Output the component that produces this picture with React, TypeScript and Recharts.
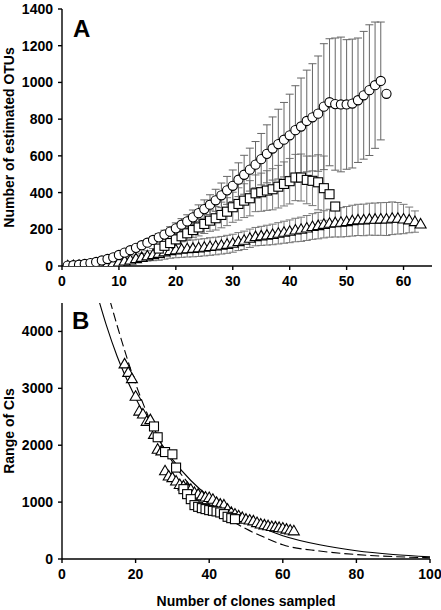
import React from "react";
import { ComposedChart, Scatter, Line, XAxis, YAxis, ErrorBar } from "recharts";

// Panel A: estimated OTUs vs clones sampled (x starts at the listed first clone)
const circleStart = 1;
const circleOTUs = [
  2, 4, 7, 11, 16, 22, 30, 38, 47, 60,
  73, 86, 99, 113, 127, 142, 156, 171, 187, 205,
  225, 243, 265, 288, 310, 334, 358, 385, 412, 437,
  470, 497, 525, 552, 582, 611, 640, 664, 688, 712,
  740, 760, 790, 810, 830, 868, 892, 882, 880, 880,
  885, 903, 930, 958, 985, 1008, 938,
];
const circleCI = [
  0, 0, 1, 1, 2, 2, 3, 4, 5, 6,
  8, 10, 12, 14, 16, 19, 21, 24, 27, 30,
  33, 36, 40, 45, 50, 54, 60, 67, 76, 86,
  92, 106, 117, 126, 140, 158, 172, 190, 203, 224,
  242, 264, 277, 292, 314, 343, 346, 360, 367, 353,
  351, 339, 348, 356, 344, 321, 0,
];

const squareStart = 17;
const squareOTUs = [
  95, 110, 125, 145, 162, 178, 196, 210, 229, 247,
  260, 278, 296, 320, 338, 356, 369, 396, 402, 411,
  418, 432, 447, 462, 482, 482, 469, 464, 456, 424,
  391, 324,
];
const squareCI = [
  15, 18, 22, 26, 30, 35, 40, 46, 52, 58,
  64, 70, 76, 82, 88, 92, 96, 100, 104, 108,
  112, 116, 120, 124, 126, 128, 130, 135, 150, 175,
  0, 0,
];

const triangleStart = 1;
const triangleOTUs = [
  1, 2, 3, 3, 4, 5, 9, 13, 18, 22,
  27, 33, 40, 47, 55, 62, 69, 77, 84, 88,
  91, 94, 96, 99, 102, 106, 109, 113, 118, 124,
  133, 140, 151, 160, 164, 168, 172, 178, 184, 189,
  196, 200, 207, 215, 220, 227, 233, 236, 238, 242,
  247, 251, 251, 255, 255, 256, 256, 260, 260, 256,
  251, 242, 229,
];
const triangleCI = [
  0, 0, 0, 0, 1, 2, 3, 5, 7, 10,
  13, 16, 19, 22, 28, 33, 38, 40, 42, 43,
  44, 45, 46, 47, 47, 48, 48, 48, 49, 49,
  49, 50, 50, 50, 52, 54, 56, 58, 60, 62,
  64, 66, 68, 70, 72, 74, 76, 78, 80, 82,
  84, 85, 86, 87, 88, 89, 90, 89, 86, 80,
  70, 58, 0,
];

// Panel B: range of CIs
const rangeTriStart = 17;
const rangeTriangles = [
  3430, 3280, 3170, 2860, 2600, 2550, 2420, 2450, 2190, 1930,
  1900, 1550, 1460, 1430, 1370, 1310, 1285, 1255, 1225, 1170,
  1140, 1110, 1090, 1080, 1050, 995, 965, 950, 875, 820,
  790, 760, 730, 700, 685, 670, 640, 615, 600, 585,
  570, 565, 555, 545, 525, 510, 495,
];
const rangeSquareX = [25, 26, 28, 30, 31, 33, 34, 35, 36, 37, 38, 39, 40, 41, 42, 43, 44, 45, 46, 47];
const rangeSquares = [2330, 2140, 1880, 1840, 1607, 1228, 1140, 1052, 947, 917, 894, 877, 859, 847, 836, 818, 789, 742, 718, 700];

const solidFitX = [10, 12, 15, 20, 25, 30, 35, 40, 45, 50, 55, 60, 70, 80, 90, 100];
const solidFitY = [4550, 4120, 3560, 2830, 2230, 1750, 1380, 1090, 860, 680, 530, 410, 250, 145, 80, 38];
const dashFitX = [13, 15, 20, 25, 30, 35, 40, 45, 50, 55, 60, 70, 80, 90, 100];
const dashFitY = [4550, 4100, 3080, 2290, 1710, 1280, 960, 720, 530, 380, 250, 140, 78, 42, 22];

const ticksA_x = [0, 10, 20, 30, 40, 50, 60];
const ticksA_y = [0, 200, 400, 600, 800, 1000, 1200, 1400];
const ticksB_x = [0, 20, 40, 60, 80, 100];
const ticksB_y = [0, 1000, 2000, 3000, 4000];

const series = (start: number, ys: number[], errs?: number[]) =>
  ys.map((y, i) => ({ x: start + i, y, err: errs ? errs[i] : 0 }));
const pairs = (xs: number[], ys: number[]) => xs.map((x, i) => ({ x, y: ys[i] }));

const circlesA = series(circleStart, circleOTUs, circleCI);
const squaresA = series(squareStart, squareOTUs, squareCI);
const trianglesA = series(triangleStart, triangleOTUs, triangleCI);
const trianglesB = series(rangeTriStart, rangeTriangles);
const squaresB = pairs(rangeSquareX, rangeSquares);
const solidFit = pairs(solidFitX, solidFitY);
const dashFit = pairs(dashFitX, dashFitY);

const FONT = "'Liberation Sans', Arial, sans-serif";
const tickStyle = { fontSize: 14, fontWeight: 700, fill: "#000", fontFamily: FONT };
const titleStyle = { fontSize: 14, fontWeight: 700, fill: "#000", fontFamily: FONT };

const Circle = (p: any) => (
  <circle cx={p.cx} cy={p.cy} r={4.6} fill="#fff" stroke="#000" strokeWidth={1.1} />
);
const Square = (p: any) => (
  <rect x={p.cx - 4.5} y={p.cy - 4.5} width={9} height={9} fill="#fff" stroke="#000" strokeWidth={1.1} />
);
const Triangle = (p: any) => (
  <path
    d={`M${p.cx},${p.cy - 5.5}L${p.cx + 5.5},${p.cy + 4}L${p.cx - 5.5},${p.cy + 4}Z`}
    fill="#fff"
    stroke="#000"
    strokeWidth={1.1}
  />
);

const axisCommon = {
  stroke: "#000",
  strokeWidth: 1.4,
  tickSize: 4,
  tick: tickStyle,
  allowDataOverflow: true,
  type: "number" as const,
};

const letterStyle: React.CSSProperties = {
  position: "absolute",
  fontFamily: FONT,
  fontWeight: 700,
  fontSize: 24,
  lineHeight: "24px",
  color: "#000",
};

export default function App() {
  return (
    <div style={{ position: "absolute", left: 0, top: 0, width: 441, height: 610, background: "#fff" }}>
      <div style={{ position: "absolute", left: 0, top: 0 }}>
        <ComposedChart width={441} height={300} margin={{ top: 9, right: 9, bottom: 0, left: 0 }}>
          <XAxis
            {...axisCommon}
            dataKey="x"
            domain={[0, 65]}
            ticks={ticksA_x}
            height={34}
            tickMargin={6}
          />
          <XAxis xAxisId="top" orientation="top" type="number" domain={[0, 65]} height={0} tick={false} tickLine={false} stroke="#000" strokeWidth={1.4} />
          <YAxis
            {...axisCommon}
            dataKey="y"
            domain={[0, 1400]}
            ticks={ticksA_y}
            width={62}
            tickMargin={5}
            label={{
              value: "Number of estimated OTUs",
              angle: -90,
              position: "insideLeft",
              offset: 9,
              style: { ...titleStyle, textAnchor: "middle" },
            }}
          />
          <YAxis yAxisId="r" orientation="right" type="number" domain={[0, 1400]} width={0} tick={false} tickLine={false} stroke="#000" strokeWidth={1.4} />
          <Scatter data={trianglesA} dataKey="y" shape={Triangle} isAnimationActive={false}>
            <ErrorBar dataKey="err" direction="y" width={4} stroke="#777" strokeWidth={1} />
          </Scatter>
          <Scatter data={squaresA} dataKey="y" shape={Square} isAnimationActive={false}>
            <ErrorBar dataKey="err" direction="y" width={4} stroke="#777" strokeWidth={1} />
          </Scatter>
          <Scatter data={circlesA} dataKey="y" shape={Circle} isAnimationActive={false}>
            <ErrorBar dataKey="err" direction="y" width={4} stroke="#666" strokeWidth={1} />
          </Scatter>
        </ComposedChart>
      </div>
      <div style={{ position: "absolute", left: 0, top: 300 }}>
        <ComposedChart width={441} height={310} margin={{ top: 3, right: 11, bottom: 0, left: 0 }}>
          <XAxis
            {...axisCommon}
            dataKey="x"
            domain={[0, 100]}
            ticks={ticksB_x}
            height={51}
            tickMargin={6}
            label={{
              value: "Number of clones sampled",
              position: "insideBottom",
              offset: 4,
              style: titleStyle,
            }}
          />
          <XAxis xAxisId="top" orientation="top" type="number" domain={[0, 100]} height={0} tick={false} tickLine={false} stroke="#000" strokeWidth={1.4} />
          <YAxis
            {...axisCommon}
            dataKey="y"
            domain={[0, 4500]}
            ticks={ticksB_y}
            width={62}
            tickMargin={5}
            label={{
              value: "Range of CIs",
              angle: -90,
              position: "insideLeft",
              offset: 9,
              style: { ...titleStyle, textAnchor: "middle" },
            }}
          />
          <YAxis yAxisId="r" orientation="right" type="number" domain={[0, 4500]} width={0} tick={false} tickLine={false} stroke="#000" strokeWidth={1.4} />
          <Line data={solidFit} dataKey="y" type="monotone" stroke="#000" strokeWidth={1.1} dot={false} isAnimationActive={false} />
          <Line data={dashFit} dataKey="y" type="monotone" stroke="#000" strokeWidth={1.1} strokeDasharray="9 4" dot={false} isAnimationActive={false} />
          <Scatter data={trianglesB} dataKey="y" shape={Triangle} isAnimationActive={false} />
          <Scatter data={squaresB} dataKey="y" shape={Square} isAnimationActive={false} />
        </ComposedChart>
      </div>
      <div style={{ ...letterStyle, left: 73, top: 17 }}>A</div>
      <div style={{ ...letterStyle, left: 72, top: 309 }}>B</div>
    </div>
  );
}
